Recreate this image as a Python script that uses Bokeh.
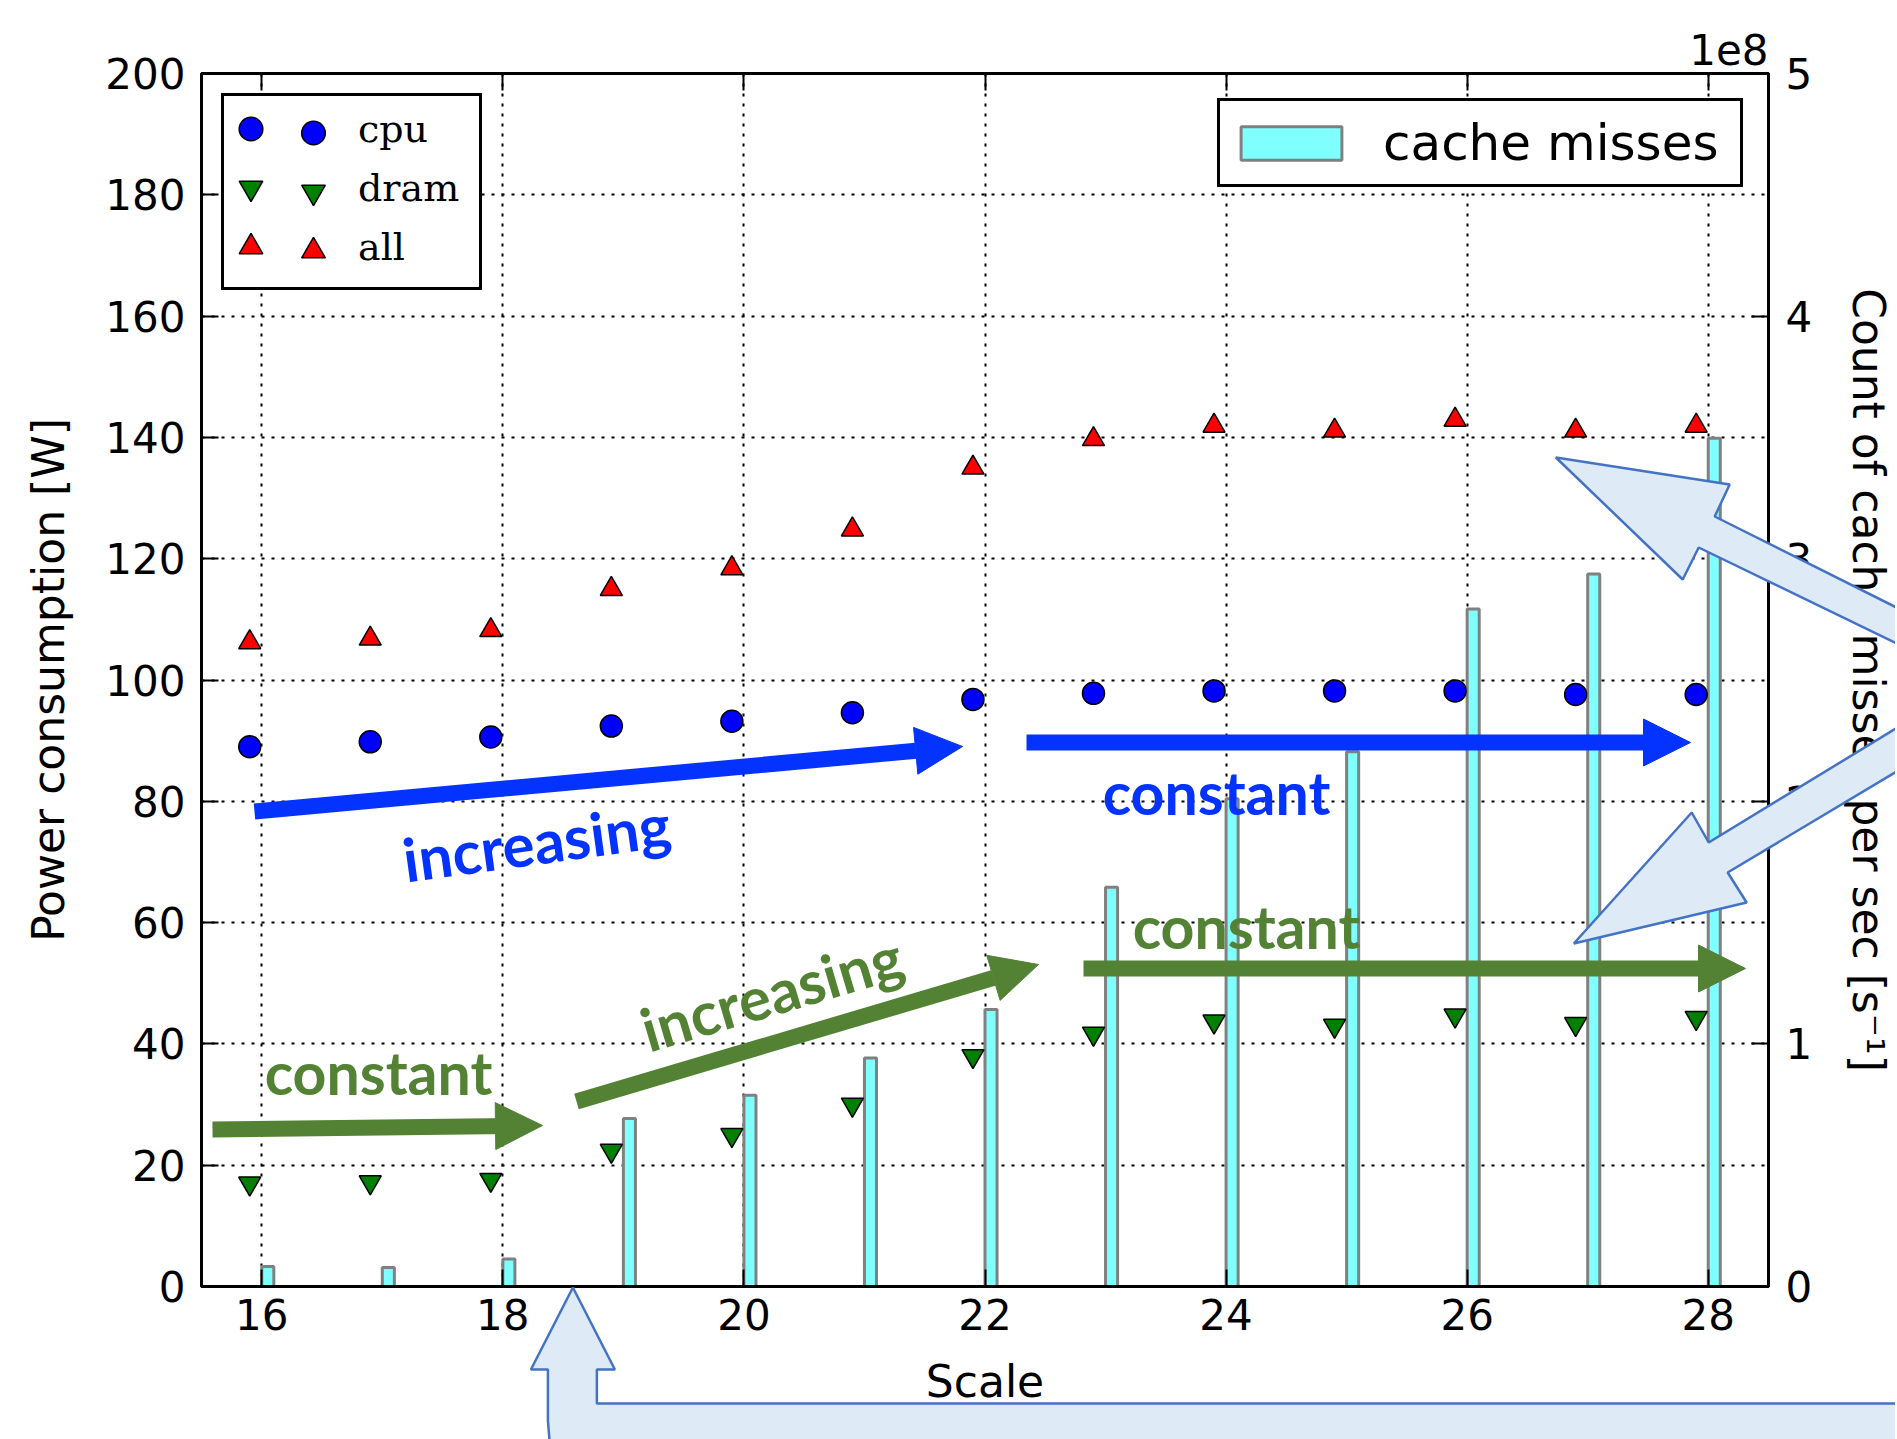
from bokeh.plotting import figure
from bokeh.models import (ColumnDataSource, Range1d, LinearAxis, FixedTicker, CustomJSTickFormatter,
                          Legend, LegendItem, Label, Arrow, NormalHead, Column)
from bokeh.core.properties import value
from bokeh.transform import dodge
from bokeh.embed import file_html
from bokeh.resources import INLINE

# ---------------- data ----------------
scale = [16, 17, 18, 19, 20, 21, 22, 23, 24, 25, 26, 27, 28]
cpu_power = [89.0, 89.8, 90.6, 92.4, 93.2, 94.6, 96.8, 97.8, 98.2, 98.2, 98.2, 97.6, 97.6]
dram_power = [17.0, 17.2, 17.6, 22.4, 25.0, 30.0, 38.0, 41.7, 43.7, 43.0, 44.7, 43.3, 44.3]
all_power = [106.2, 106.8, 108.2, 115.0, 118.4, 124.8, 135.0, 139.7, 141.9, 141.1, 142.9, 141.1, 141.9]
cache_misses = [8.2e6, 7.8e6, 1.13e7, 6.93e7, 7.88e7, 9.42e7, 1.142e8, 1.646e8, 2.01e8,
                2.204e8, 2.793e8, 2.937e8, 3.496e8]

x_ticks = [16, 18, 20, 22, 24, 26, 28]
y_ticks = [0, 20, 40, 60, 80, 100, 120, 140, 160, 180, 200]
cache_ticks = [0, 1e8, 2e8, 3e8, 4e8, 5e8]

series_labels = ["cpu", "dram", "all"]
cache_label = "cache misses"

# ------------- page geometry / annotation helpers (page pixel -> data) -------------
W, H = 1897, 1439
X0, X1, Y0, Y1 = 15.5, 28.5, 0, 200
FL, FR, FT, FB = 201, 1768, 73, 1286


def dx(px):
    return X0 + (px - FL) * (X1 - X0) / (FR - FL)


def dy(py):
    return Y0 + (FB - py) * (Y1 - Y0) / (FB - FT)


BLUE = "#0433FF"
GREEN = "#548235"
FONT = "DejaVu Sans"

p = figure(frame_width=FR - FL, frame_height=FB - FT,
           x_range=Range1d(X0, X1), y_range=Range1d(Y0, Y1),
           output_backend="svg", toolbar_location=None,
           min_border_left=FL, min_border_right=W - FR, min_border_top=FT, min_border_bottom=H - FB,
           background_fill_color="white", border_fill_color="white")
p.extra_y_ranges = {"cache": Range1d(0, 5e8)}

p.outline_line_color = "black"
p.outline_line_width = 3

# offset text of the right axis ("1e8")
p.title.text = "1e8"
p.title.align = "right"
p.title.text_font = FONT
p.title.text_font_size = "42px"
p.title.text_font_style = "normal"
p.title.text_color = "black"
p.title.standoff = 18

# grid
p.grid.grid_line_color = "black"
p.grid.grid_line_dash = "3 7"
p.grid.grid_line_width = 2

# axes
xa = p.xaxis[0]
ya = p.yaxis[0]
xa.ticker = FixedTicker(ticks=x_ticks)
ya.ticker = FixedTicker(ticks=y_ticks)
xa.axis_label = "Scale"
ya.axis_label = "Power consumption [W]"

ra = LinearAxis(y_range_name="cache", ticker=FixedTicker(ticks=cache_ticks),
                formatter=CustomJSTickFormatter(code="return (tick/1e8).toFixed(0);"),
                axis_label="Count of cache misses per sec [s\u207b\u00b9]")
p.add_layout(ra, "right")
ta = LinearAxis(ticker=FixedTicker(ticks=x_ticks),
                formatter=CustomJSTickFormatter(code="return '';"))
p.add_layout(ta, "above")

for ax in (xa, ya, ra, ta):
    ax.major_label_text_font = FONT
    ax.major_label_text_font_size = "42px"
    ax.major_label_text_color = "black"
    ax.axis_label_text_font = FONT
    ax.axis_label_text_font_size = "44px"
    ax.axis_label_text_font_style = "normal"
    ax.axis_label_text_color = "black"
    ax.major_tick_in = 17
    ax.major_tick_out = 0
    ax.minor_tick_in = 0
    ax.minor_tick_out = 0
    ax.major_tick_line_width = 2
    ax.major_tick_line_color = "black"
    ax.axis_line_width = 3
    ax.axis_line_color = "black"
xa.major_label_standoff = 12
xa.axis_label_standoff = 23
ya.major_label_standoff = 16
ya.axis_label_standoff = 28
ra.major_label_standoff = 17
ra.axis_label_standoff = 28
ta.major_label_standoff = 0
ta.major_label_text_font_size = "1px"

# ---------------- glyphs ----------------
src = ColumnDataSource(dict(scale=scale, cpu_w=cpu_power, dram_w=dram_power,
                            all_w=all_power, cache_n=cache_misses))

bars = p.vbar(x=dodge("scale", 0.05, range=p.x_range), top="cache_n", bottom=0, width=0.1,
              source=src, y_range_name="cache",
              fill_color="#80ffff", line_color="#808080", line_width=3)

mk = dict(size=22, line_color="black", line_width=1.5, source=src)
r_cpu = p.scatter(x=dodge("scale", -0.1, range=p.x_range), y="cpu_w", marker="circle",
                  fill_color="#0000ff", **mk)
r_dram = p.scatter(x=dodge("scale", -0.1, range=p.x_range), y="dram_w", marker="inverted_triangle",
                   fill_color="#008000", **mk)
r_all = p.scatter(x=dodge("scale", -0.1, range=p.x_range), y="all_w", marker="triangle",
                  fill_color="#ff0000", **mk)

# ---------------- legends ----------------
renderers = [r_cpu, r_dram, r_all]
# box + second column of markers
leg_box = Legend(items=[LegendItem(label=value(""), renderers=[r]) for r in renderers],
                 location="top_left", margin=20, padding=7, spacing=0,
                 glyph_width=164, glyph_height=59, label_height=59, label_width=77,
                 label_standoff=0, label_text_font_size="1px",
                 border_line_color="black", border_line_width=3, border_line_alpha=1,
                 background_fill_color="white", background_fill_alpha=1)
p.add_layout(leg_box)
# first column of markers + labels
leg_text = Legend(items=[LegendItem(label=value(t), renderers=[r]) for t, r in zip(series_labels, renderers)],
                  location="top_left", margin=12, padding=8, spacing=0,
                  glyph_width=59, glyph_height=59, label_height=59, label_standoff=78,
                  label_text_font="DejaVu Serif", label_text_font_size="38px",
                  label_text_color="black",
                  title=" ", title_text_font_size="1px", title_standoff=5,
                  border_line_alpha=0, background_fill_alpha=0)
p.add_layout(leg_text)

leg_cache = Legend(items=[LegendItem(label=value(cache_label), renderers=[bars])],
                   location="top_right", margin=25, padding=8,
                   glyph_width=126, glyph_height=42, label_height=67, label_width=349,
                   label_standoff=29,
                   label_text_font=FONT, label_text_font_size="50px", label_text_color="black",
                   border_line_color="black", border_line_width=3, border_line_alpha=1,
                   background_fill_color="white", background_fill_alpha=1)
p.add_layout(leg_cache)

# ---------------- trend annotations (page pixels) ----------------
trend_arrows = [
    (254, 811, 962, 746, BLUE),
    (1026, 742, 1690, 742, BLUE),
    (212, 1129, 542, 1125, GREEN),
    (576, 1101, 1038, 964, GREEN),
    (1083, 968, 1745, 968, GREEN),
]
for x0, y0, x1, y1, c in trend_arrows:
    p.add_layout(Arrow(x_start=dx(x0), y_start=dy(y0), x_end=dx(x1), y_end=dy(y1),
                       line_color=c, line_width=16,
                       end=NormalHead(size=47, fill_color=c, line_color=c, line_width=1)))

trend_texts = [
    ("increasing", 536, 841, 0.136, BLUE, "60px"),
    ("constant", 1216, 792, 0.0, BLUE, "59px"),
    ("constant", 378, 1072, 0.0, GREEN, "59px"),
    ("increasing", 771, 992, 0.288, GREEN, "60px"),
    ("constant", 1246, 926, 0.0, GREEN, "59px"),
]
for t, x, y, a, c, fs in trend_texts:
    p.add_layout(Label(x=dx(x), y=dy(y), text=t, angle=a, text_align="center",
                       text_baseline="middle", text_font="Lato", text_font_style="bold",
                       text_font_size=fs, text_color=c))

# ---------------- callout shapes: transparent overlay figure in page pixels ----------------
callouts = [
    [(1557, 457), (1731, 484), (1716, 516), (1950, 633), (1950, 668), (1700, 547), (1684, 579)],
    [(1575, 943), (1693, 812), (1710, 842), (1950, 696), (1950, 740), (1729, 872), (1748, 902)],
    [(573, 1287), (615, 1369), (597, 1369), (597, 1403), (1950, 1403), (1950, 1500), (610, 1500),
     (580, 1488), (560, 1468), (550, 1445), (548, 1420), (548, 1369), (531, 1369)],
]
SH = 2  # overlay is shifted left by SH px so that its frame is not aligned with the chart's
ov = figure(width=W + SH, height=H, x_range=Range1d(-SH, W), y_range=Range1d(H, 0),
            output_backend="svg", toolbar_location=None, title_location=None,
            x_axis_location=None, y_axis_location=None, min_border=0,
            outline_line_color=None, background_fill_alpha=0, border_fill_alpha=0)
ov.grid.visible = False
ov.patches(xs=[[a for a, b in pts] for pts in callouts],
           ys=[[b for a, b in pts] for pts in callouts],
           fill_color="#deebf7", fill_alpha=1, line_color="#4472c4", line_width=2.5)

wrapper = Column(children=[ov], width=W + SH, height=H,
                 styles={"position": "absolute", "top": "0px", "left": f"-{SH}px"})
layout = Column(children=[p, wrapper], styles={"position": "relative"})

open("out.html", "w").write(file_html(layout, INLINE))
